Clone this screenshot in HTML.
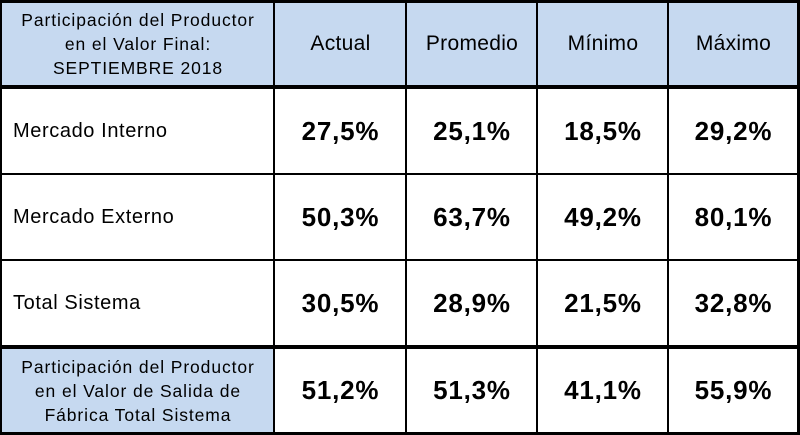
<!DOCTYPE html>
<html><head><meta charset="utf-8"><style>
html,body{margin:0;padding:0;background:#fff;}
#t{position:relative;width:800px;height:435px;overflow:hidden;font-family:"Liberation Sans",sans-serif;color:#000;}
.c{position:absolute;display:flex;align-items:center;justify-content:center;text-align:center;box-sizing:border-box;}
.h{background:#c6d9f0;}
.hd{font-size:21px;letter-spacing:0.3px;}
.lab{justify-content:flex-start;padding-left:11px;font-size:20px;letter-spacing:0.6px;}
.v{font-size:26px;font-weight:bold;letter-spacing:0.8px;}
.sm{font-size:17.5px;line-height:24px;letter-spacing:0.9px;}
.l{position:absolute;background:#000;}
</style></head><body>
<div id="t">
<div class="c h sm" style="left:2px;top:2px;width:272px;height:84px;">Participación del Productor<br>en el Valor Final:<br>SEPTIEMBRE 2018</div>
<div class="c h hd" style="left:275px;top:2px;width:131px;height:84px;">Actual</div>
<div class="c h hd" style="left:407px;top:2px;width:130px;height:84px;">Promedio</div>
<div class="c h hd" style="left:538px;top:2px;width:130px;height:84px;">Mínimo</div>
<div class="c h hd" style="left:669px;top:2px;width:129px;height:84px;">Máximo</div>

<div class="c lab" style="left:2px;top:88px;width:272px;height:86px;">Mercado Interno</div>
<div class="c v" style="left:275px;top:88px;width:131px;height:86px;">27,5%</div>
<div class="c v" style="left:407px;top:88px;width:130px;height:86px;">25,1%</div>
<div class="c v" style="left:538px;top:88px;width:130px;height:86px;">18,5%</div>
<div class="c v" style="left:669px;top:88px;width:129px;height:86px;">29,2%</div>

<div class="c lab" style="left:2px;top:175px;width:272px;height:85px;">Mercado Externo</div>
<div class="c v" style="left:275px;top:175px;width:131px;height:85px;">50,3%</div>
<div class="c v" style="left:407px;top:175px;width:130px;height:85px;">63,7%</div>
<div class="c v" style="left:538px;top:175px;width:130px;height:85px;">49,2%</div>
<div class="c v" style="left:669px;top:175px;width:129px;height:85px;">80,1%</div>

<div class="c lab" style="left:2px;top:261px;width:272px;height:84px;">Total Sistema</div>
<div class="c v" style="left:275px;top:261px;width:131px;height:84px;">30,5%</div>
<div class="c v" style="left:407px;top:261px;width:130px;height:84px;">28,9%</div>
<div class="c v" style="left:538px;top:261px;width:130px;height:84px;">21,5%</div>
<div class="c v" style="left:669px;top:261px;width:129px;height:84px;">32,8%</div>

<div class="c h sm" style="left:2px;top:349px;width:272px;height:83px;">Participación del Productor<br>en el Valor de Salida de<br>Fábrica Total Sistema</div>
<div class="c v" style="left:275px;top:349px;width:131px;height:83px;">51,2%</div>
<div class="c v" style="left:407px;top:349px;width:130px;height:83px;">51,3%</div>
<div class="c v" style="left:538px;top:349px;width:130px;height:83px;">41,1%</div>
<div class="c v" style="left:669px;top:349px;width:129px;height:83px;">55,9%</div>

<div class="l" style="left:0;top:0;width:800px;height:3px;"></div>
<div class="l" style="left:0;top:85px;width:800px;height:4px;"></div>
<div class="l" style="left:0;top:173px;width:800px;height:2px;"></div>
<div class="l" style="left:0;top:259px;width:800px;height:2px;"></div>
<div class="l" style="left:0;top:345px;width:800px;height:4px;"></div>
<div class="l" style="left:0;top:432px;width:800px;height:3px;"></div>
<div class="l" style="left:0;top:0;width:2px;height:435px;"></div>
<div class="l" style="left:273px;top:0;width:2px;height:435px;"></div>
<div class="l" style="left:405px;top:0;width:2px;height:435px;"></div>
<div class="l" style="left:536px;top:0;width:2px;height:435px;"></div>
<div class="l" style="left:667px;top:0;width:2px;height:435px;"></div>
<div class="l" style="left:797px;top:0;width:3px;height:435px;"></div>
</div>
</body></html>
